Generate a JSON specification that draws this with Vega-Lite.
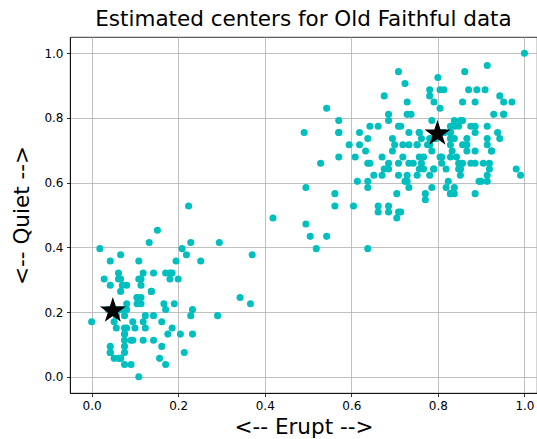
{
  "$schema": "https://vega.github.io/schema/vega-lite/v6.json",
  "autosize": {"type": "fit", "contains": "padding"},
  "width": 537,
  "height": 439,
  "padding": {"left": 11, "top": 8, "right": 0, "bottom": 1},
  "background": "white",
  "config": {
    "font": "DejaVu Sans",
    "view": {"stroke": "black", "strokeWidth": 0.8},
    "axis": {
      "grid": true, "gridColor": "#b0b0b0", "gridWidth": 0.8, "gridOpacity": 1,
      "domain": true, "domainColor": "black", "domainWidth": 0.8,
      "ticks": true, "tickColor": "black", "tickWidth": 0.8, "tickSize": 3.5,
      "labelFont": "DejaVu Sans", "labelFontSize": 12, "labelColor": "black", "labelPadding": 3.5,
      "titleFont": "DejaVu Sans", "titleFontSize": 21.5, "titleFontWeight": "normal", "titleColor": "black"
    }
  },
  "title": {
    "text": "Estimated centers for Old Faithful data",
    "font": "DejaVu Sans", "fontSize": 21.5, "fontWeight": "normal", "color": "black",
    "anchor": "middle", "offset": 7
  },
  "datasets": {
    "obs": [
{"erupt":0.571,"quiet":0.679},{"erupt":0.057,"quiet":0.208},{"erupt":0.495,"quiet":0.585},{"erupt":0.195,"quiet":0.358},{"erupt":0.838,"quiet":0.792},
{"erupt":0.367,"quiet":0.226},{"erupt":0.886,"quiet":0.849},{"erupt":0.571,"quiet":0.792},{"erupt":0.100,"quiet":0.151},{"erupt":0.786,"quiet":0.792},
{"erupt":0.067,"quiet":0.208},{"erupt":0.662,"quiet":0.774},{"erupt":0.743,"quiet":0.660},{"erupt":0.043,"quiet":0.075},{"erupt":0.886,"quiet":0.755},
{"erupt":0.162,"quiet":0.170},{"erupt":0.043,"quiet":0.358},{"erupt":0.914,"quiet":0.774},{"erupt":0.000,"quiet":0.170},{"erupt":0.757,"quiet":0.679},
{"erupt":0.057,"quiet":0.151},{"erupt":0.043,"quiet":0.075},{"erupt":0.529,"quiet":0.660},{"erupt":0.419,"quiet":0.491},{"erupt":0.838,"quiet":0.585},
{"erupt":0.571,"quiet":0.755},{"erupt":0.105,"quiet":0.226},{"erupt":0.709,"quiet":0.623},{"erupt":0.643,"quiet":0.660},{"erupt":0.809,"quiet":0.679},
{"erupt":0.771,"quiet":0.566},{"erupt":0.819,"quiet":0.642},{"erupt":0.505,"quiet":0.434},{"erupt":0.695,"quiet":0.698},{"erupt":0.638,"quiet":0.585},
{"erupt":0.119,"quiet":0.170},{"erupt":0.076,"quiet":0.094},{"erupt":0.924,"quiet":0.698},{"erupt":0.067,"quiet":0.302},{"erupt":0.909,"quiet":0.887},
{"erupt":0.786,"quiet":0.698},{"erupt":0.081,"quiet":0.283},{"erupt":0.848,"quiet":0.774},{"erupt":0.043,"quiet":0.283},{"erupt":0.838,"quiet":0.566},
{"erupt":0.491,"quiet":0.755},{"erupt":0.638,"quiet":0.396},{"erupt":0.143,"quiet":0.189},{"erupt":0.867,"quiet":0.736},{"erupt":0.114,"quiet":0.302},
{"erupt":0.914,"quiet":0.604},{"erupt":0.890,"quiet":0.887},{"erupt":0.067,"quiet":0.208},{"erupt":0.924,"quiet":0.698},{"erupt":0.038,"quiet":0.208},
{"erupt":0.938,"quiet":0.755},{"erupt":0.605,"quiet":0.528},{"erupt":0.019,"quiet":0.396},{"erupt":0.848,"quiet":0.642},{"erupt":0.776,"quiet":0.717},
{"erupt":0.181,"quiet":0.302},{"erupt":0.829,"quiet":0.774},{"erupt":0.043,"quiet":0.094},{"erupt":0.914,"quiet":0.736},{"erupt":0.062,"quiet":0.321},
{"erupt":0.800,"quiet":0.925},{"erupt":0.733,"quiet":0.660},{"erupt":0.886,"quiet":0.660},{"erupt":0.133,"quiet":0.415},{"erupt":0.886,"quiet":0.566},
{"erupt":0.695,"quiet":0.736},{"erupt":0.105,"quiet":0.245},{"erupt":0.829,"quiet":0.679},{"erupt":0.686,"quiet":0.528},{"erupt":0.109,"quiet":0.358},
{"erupt":0.991,"quiet":0.623},{"erupt":0.119,"quiet":0.321},{"erupt":0.848,"quiet":0.660},{"erupt":0.652,"quiet":0.623},{"erupt":0.571,"quiet":0.755},
{"erupt":0.724,"quiet":0.604},{"erupt":0.781,"quiet":0.736},{"erupt":0.714,"quiet":0.509},{"erupt":0.295,"quiet":0.415},{"erupt":0.705,"quiet":0.566},
{"erupt":0.952,"quiet":0.849},{"erupt":0.671,"quiet":0.623},{"erupt":0.833,"quiet":0.698},{"erupt":0.162,"quiet":0.094},{"erupt":0.686,"quiet":0.811},
{"erupt":0.171,"quiet":0.321},{"erupt":0.781,"quiet":0.887},{"erupt":0.076,"quiet":0.132},{"erupt":0.919,"quiet":0.660},{"erupt":0.067,"quiet":0.377},
{"erupt":0.771,"quiet":0.547},{"erupt":0.876,"quiet":0.774},{"erupt":0.614,"quiet":0.604},{"erupt":0.076,"quiet":0.151},{"erupt":0.943,"quiet":0.736},
{"erupt":0.252,"quiet":0.358},{"erupt":0.791,"quiet":0.849},{"erupt":0.143,"quiet":0.113},{"erupt":0.829,"quiet":0.755},{"erupt":0.700,"quiet":0.717},
{"erupt":0.076,"quiet":0.075},{"erupt":0.886,"quiet":0.774},{"erupt":0.052,"quiet":0.170},{"erupt":0.929,"quiet":0.811},{"erupt":0.595,"quiet":0.717},
{"erupt":0.895,"quiet":0.604},{"erupt":0.200,"quiet":0.302},{"erupt":0.943,"quiet":0.868},{"erupt":0.805,"quiet":0.679},{"erupt":0.029,"quiet":0.302},
{"erupt":0.867,"quiet":0.717},{"erupt":0.205,"quiet":0.132},{"erupt":0.857,"quiet":0.792},{"erupt":0.062,"quiet":0.302},{"erupt":0.805,"quiet":0.830},
{"erupt":0.291,"quiet":0.189},{"erupt":0.705,"quiet":0.491},{"erupt":0.757,"quiet":0.642},{"erupt":0.105,"quiet":0.245},{"erupt":0.857,"quiet":0.849},
{"erupt":0.619,"quiet":0.717},{"erupt":0.091,"quiet":0.038},{"erupt":0.829,"quiet":0.736},{"erupt":0.191,"quiet":0.226},{"erupt":0.871,"quiet":0.887},
{"erupt":0.076,"quiet":0.038},{"erupt":0.733,"quiet":0.755},{"erupt":0.343,"quiet":0.245},{"erupt":0.781,"quiet":0.868},{"erupt":0.067,"quiet":0.057},
{"erupt":0.795,"quiet":0.736},{"erupt":0.081,"quiet":0.151},{"erupt":0.952,"quiet":0.811},{"erupt":0.124,"quiet":0.189},{"erupt":0.609,"quiet":0.679},
{"erupt":0.752,"quiet":0.717},{"erupt":0.181,"quiet":0.321},{"erupt":0.838,"quiet":0.736},{"erupt":0.919,"quiet":0.642},{"erupt":0.781,"quiet":0.623},
{"erupt":0.109,"quiet":0.302},{"erupt":0.867,"quiet":0.698},{"erupt":0.119,"quiet":0.113},{"erupt":1.000,"quiet":1.000},{"erupt":0.057,"quiet":0.189},
{"erupt":0.981,"quiet":0.642},{"erupt":0.686,"quiet":0.642},{"erupt":0.229,"quiet":0.415},{"erupt":0.857,"quiet":0.717},{"erupt":0.562,"quiet":0.528},
{"erupt":0.686,"quiet":0.509},{"erupt":0.829,"quiet":0.717},{"erupt":0.709,"quiet":0.943},{"erupt":0.057,"quiet":0.189},{"erupt":0.676,"quiet":0.868},
{"erupt":0.171,"quiet":0.038},{"erupt":0.729,"quiet":0.811},{"erupt":0.114,"quiet":0.283},{"erupt":0.638,"quiet":0.660},{"erupt":0.543,"quiet":0.434},
{"erupt":0.852,"quiet":0.623},{"erupt":0.219,"quiet":0.377},{"erupt":0.971,"quiet":0.849},{"erupt":0.095,"quiet":0.170},{"erupt":0.862,"quiet":0.943},
{"erupt":0.091,"quiet":0.113},{"erupt":0.138,"quiet":0.264},{"erupt":0.852,"quiet":0.642},{"erupt":0.495,"quiet":0.472},{"erupt":0.733,"quiet":0.717},
{"erupt":0.781,"quiet":0.717},{"erupt":0.829,"quiet":0.566},{"erupt":0.233,"quiet":0.132},{"erupt":0.686,"quiet":0.792},{"erupt":0.733,"quiet":0.585},
{"erupt":0.081,"quiet":0.226},{"erupt":0.852,"quiet":0.642},{"erupt":0.757,"quiet":0.755},{"erupt":0.619,"quiet":0.755},{"erupt":0.124,"quiet":0.151},
{"erupt":0.809,"quiet":0.660},{"erupt":0.709,"quiet":0.774},{"erupt":0.067,"quiet":0.057},{"erupt":0.805,"quiet":0.755},{"erupt":0.167,"quiet":0.226},
{"erupt":0.914,"quiet":0.717},{"erupt":0.067,"quiet":0.264},{"erupt":0.914,"quiet":0.623},{"erupt":0.714,"quiet":0.774},{"erupt":0.676,"quiet":0.642},
{"erupt":0.752,"quiet":0.717},{"erupt":0.543,"quiet":0.830},{"erupt":0.790,"quiet":0.642},{"erupt":0.186,"quiet":0.151},{"erupt":0.876,"quiet":0.660},
{"erupt":0.143,"quiet":0.321},{"erupt":0.786,"quiet":0.736},{"erupt":0.724,"quiet":0.906},{"erupt":0.076,"quiet":0.189},{"erupt":0.857,"quiet":0.660},
{"erupt":0.052,"quiet":0.057},{"erupt":0.791,"quiet":0.642},{"erupt":0.643,"quiet":0.774},{"erupt":0.095,"quiet":0.113},{"erupt":0.829,"quiet":0.755},
{"erupt":0.224,"quiet":0.528},{"erupt":0.886,"quiet":0.698},{"erupt":0.076,"quiet":0.113},{"erupt":0.638,"quiet":0.604},{"erupt":0.519,"quiet":0.396},
{"erupt":0.752,"quiet":0.623},{"erupt":0.229,"quiet":0.189},{"erupt":0.914,"quiet":0.962},{"erupt":0.114,"quiet":0.226},{"erupt":0.729,"quiet":0.623},
{"erupt":0.076,"quiet":0.132},{"erupt":0.762,"quiet":0.736},{"erupt":0.043,"quiet":0.208},{"erupt":0.824,"quiet":0.604},{"erupt":0.686,"quiet":0.660},
{"erupt":0.719,"quiet":0.679},{"erupt":0.709,"quiet":0.660},{"erupt":0.762,"quiet":0.660},{"erupt":0.662,"quiet":0.509},{"erupt":0.843,"quiet":0.679},
{"erupt":0.709,"quiet":0.509},{"erupt":0.233,"quiet":0.208},{"erupt":0.738,"quiet":0.811},{"erupt":0.176,"quiet":0.132},{"erupt":0.814,"quiet":0.887},
{"erupt":0.081,"quiet":0.208},{"erupt":0.071,"quiet":0.208},{"erupt":0.767,"quiet":0.642},{"erupt":0.671,"quiet":0.679},{"erupt":0.209,"quiet":0.396},
{"erupt":0.729,"quiet":0.604},{"erupt":0.214,"quiet":0.075},{"erupt":0.952,"quiet":0.811},{"erupt":0.371,"quiet":0.377},{"erupt":0.852,"quiet":0.792},
{"erupt":0.638,"quiet":0.736},{"erupt":0.138,"quiet":0.264},{"erupt":0.791,"quiet":0.736},{"erupt":0.152,"quiet":0.453},{"erupt":0.786,"quiet":0.585},
{"erupt":0.171,"quiet":0.208},{"erupt":0.814,"quiet":0.755},{"erupt":0.562,"quiet":0.566},{"erupt":0.829,"quiet":0.566},{"erupt":0.729,"quiet":0.849},
{"erupt":0.633,"quiet":0.698},{"erupt":0.662,"quiet":0.528},{"erupt":0.814,"quiet":0.755},{"erupt":0.114,"quiet":0.245},{"erupt":0.767,"quiet":0.679},
{"erupt":0.905,"quiet":0.660},{"erupt":0.838,"quiet":0.774},{"erupt":0.071,"quiet":0.283},{"erupt":0.757,"quiet":0.755},{"erupt":0.109,"quiet":0.000},
{"erupt":0.186,"quiet":0.321},{"erupt":0.900,"quiet":0.604},{"erupt":0.719,"quiet":0.717},{"erupt":0.157,"quiet":0.057},{"erupt":0.805,"quiet":0.887},
{"erupt":0.062,"quiet":0.057},{"erupt":0.819,"quiet":0.585}
    ],
    "centers": [
      {"erupt": 0.049, "quiet": 0.204},
      {"erupt": 0.799, "quiet": 0.751}
    ]
  },
  "layer": [
    {
      "data": {"name": "obs"},
      "mark": {"type": "circle", "size": 50, "color": "#00bfbf", "opacity": 1},
      "encoding": {
        "x": {
          "field": "erupt", "type": "quantitative",
          "scale": {"domain": [-0.05, 1.029], "nice": false, "zero": false},
          "axis": {"title": "<-- Erupt -->", "values": [0, 0.2, 0.4, 0.6, 0.8, 1.0], "format": ".1f", "titlePadding": 5}
        },
        "y": {
          "field": "quiet", "type": "quantitative",
          "scale": {"domain": [-0.05, 1.05], "nice": false, "zero": false},
          "axis": {"title": "<-- Quiet -->", "values": [0, 0.2, 0.4, 0.6, 0.8, 1.0], "format": ".1f", "titlePadding": 10}
        }
      }
    },
    {
      "data": {"name": "centers"},
      "mark": {"type": "point", "shape": "M0,-1L0.225,-0.309L0.951,-0.309L0.363,0.118L0.588,0.809L0,0.382L-0.588,0.809L-0.363,0.118L-0.951,-0.309L-0.225,-0.309Z", "filled": true, "color": "black", "size": 750, "opacity": 1},
      "encoding": {
        "x": {"field": "erupt", "type": "quantitative"},
        "y": {"field": "quiet", "type": "quantitative"}
      }
    }
  ]
}
